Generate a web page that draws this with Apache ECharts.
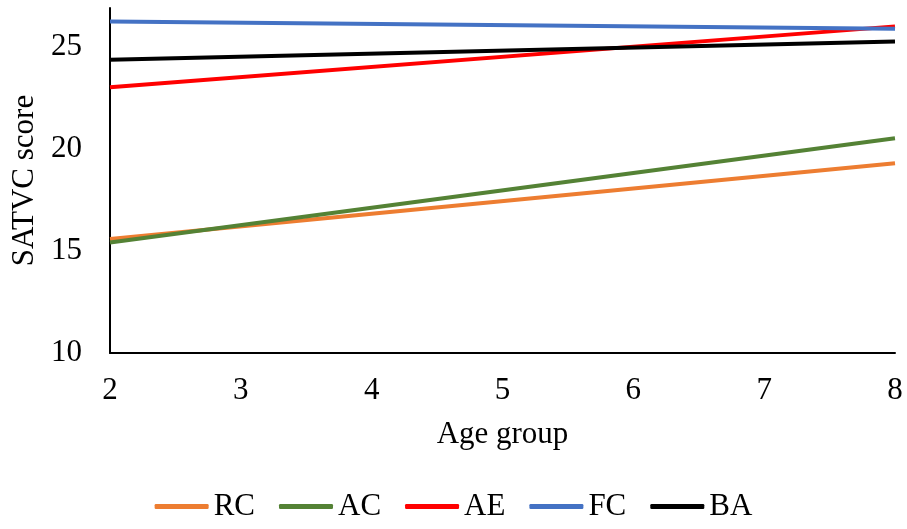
<!DOCTYPE html>
<html>
<head>
<meta charset="utf-8">
<script src="https://cdn.jsdelivr.net/npm/echarts@6/dist/echarts.min.js"></script>
<style>html,body{margin:0;padding:0;background:#fff}#c{width:907px;height:529px}</style>
</head>
<body>
<div id="c"></div>
<script>
const ageGroups = [2, 8];
const RC = [15.59, 19.30];
const AC = [15.41, 20.52];
const AE = [23.02, 26.00];
const FC = [26.24, 25.88];
const BA = [24.36, 25.26];
const seriesNames = ['RC', 'AC', 'AE', 'FC', 'BA'];
const seriesValues = [RC, AC, AE, FC, BA];
const colors = ['#ED7D31', '#548235', '#FF0000', '#4472C4', '#000000'];
const yTicks = [10, 15, 20, 25];

const font = 'Liberation Serif';
const fs = 31;
const chart = echarts.init(document.getElementById('c'), null, {renderer: 'canvas'});
chart.setOption({
  animation: false,
  color: colors,
  grid: {left: 110, right: 12, top: 8, bottom: 176, containLabel: false},
  xAxis: {
    type: 'value', min: 2, max: 8, interval: 1,
    name: 'Age group', nameLocation: 'middle', nameGap: 66,
    nameTextStyle: {fontFamily: font, fontSize: fs, color: '#000'},
    axisLine: {show: true, lineStyle: {color: '#000', width: 2}},
    axisTick: {show: false},
    splitLine: {show: false},
    axisLabel: {fontFamily: font, fontSize: fs, color: '#000', margin: 22}
  },
  yAxis: {
    type: 'value', min: 10, max: 26.9, interval: 5,
    name: 'SATVC score', nameLocation: 'middle', nameGap: 64,
    nameTextStyle: {fontFamily: font, fontSize: fs, color: '#000'},
    axisLine: {show: true, lineStyle: {color: '#000', width: 2}},
    axisTick: {show: false},
    splitLine: {show: false},
    axisLabel: {fontFamily: font, fontSize: fs, color: '#000', margin: 28,
      formatter: v => yTicks.includes(v) ? String(v) : ''}
  },
  legend: {
    bottom: 2, left: 'center',
    icon: 'roundRect', itemWidth: 54, itemHeight: 5, itemGap: 24,
    textStyle: {fontFamily: font, fontSize: fs, color: '#000'},
    data: seriesNames
  },
  series: seriesNames.map((n, i) => ({
    name: n, type: 'line', symbol: 'none',
    lineStyle: {width: 4, color: colors[i]},
    itemStyle: {color: colors[i]},
    data: ageGroups.map((x, j) => [x, seriesValues[i][j]])
  }))
});
</script>
</body>
</html>
